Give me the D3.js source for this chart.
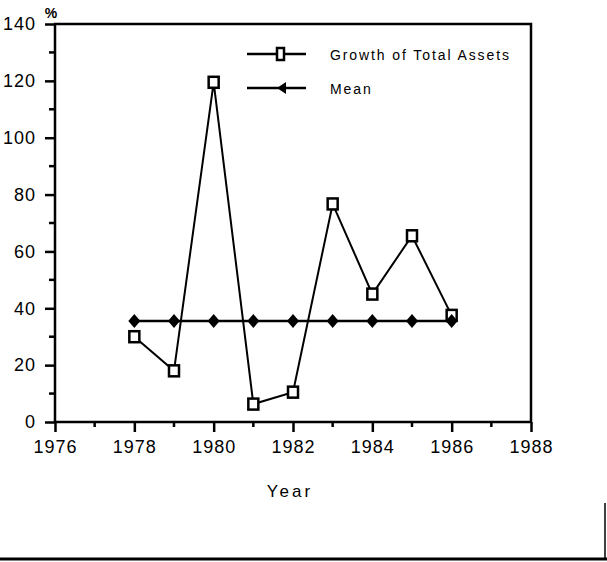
<!DOCTYPE html>
<html>
<head>
<meta charset="utf-8">
<script src="https://cdn.jsdelivr.net/npm/d3@7"></script>
<style>
  body { margin: 0; background: #fff; }
  svg { display: block; }
  text { font-family: "Liberation Sans", Arial, sans-serif; fill: #000; }
</style>
</head>
<body>
<div id="chart"></div>
<script>
// data
var years  = [1978, 1979, 1980, 1981, 1982, 1983, 1984, 1985, 1986];
var growth = [30, 18, 119.5, 6.3, 10.5, 76.7, 45, 65.5, 37.5];
var mean   = [35.5, 35.5, 35.5, 35.5, 35.5, 35.5, 35.5, 35.5, 35.5];
var xTicks = [1976, 1978, 1980, 1982, 1984, 1986, 1988];
var yTicks = [0, 20, 40, 60, 80, 100, 120, 140];
var seriesNames = ["Growth of Total Assets", "Mean"];

var W = 607, H = 562;
var box = { left: 55, right: 531, top: 24, bottom: 422 };

var svg = d3.select("#chart").append("svg")
	.attr("width", W).attr("height", H);

var x = d3.scaleLinear().domain([1976, 1988]).range([box.left, box.right]);
var y = d3.scaleLinear().domain([0, 140]).range([box.bottom, box.top]);

// frame
svg.append("rect")
	.attr("x", box.left).attr("y", box.top)
	.attr("width", box.right - box.left).attr("height", box.bottom - box.top)
	.attr("fill", "none").attr("stroke", "#000").attr("stroke-width", 2.5);

// x axis: major ticks every 2 years, minor every year
var xAxis = d3.axisBottom(x).tickValues(xTicks).tickFormat(d3.format("d"))
	.tickSize(10).tickPadding(8);
var gx = svg.append("g").attr("transform", "translate(0," + box.bottom + ")").call(xAxis);
gx.append("g").selectAll("line")
	.data(d3.range(1977, 1988, 2))
	.enter().append("line")
		.attr("x1", function(d){ return x(d); }).attr("x2", function(d){ return x(d); })
		.attr("y1", 0).attr("y2", 5);

var yAxis = d3.axisLeft(y).tickValues(yTicks).tickSize(10).tickPadding(9);
var gy = svg.append("g").attr("transform", "translate(" + box.left + ",0)").call(yAxis);
gy.append("g").selectAll("line")
	.data(d3.range(10, 140, 20))
	.enter().append("line")
		.attr("y1", function(d){ return y(d); }).attr("y2", function(d){ return y(d); })
		.attr("x1", 0).attr("x2", -6);

[gx, gy].forEach(function(g){
	g.select(".domain").remove();
	g.selectAll("line").attr("stroke", "#000").attr("stroke-width", 2.5);
	g.selectAll("text").attr("font-size", 18).attr("letter-spacing", 1)
		.attr("font-family", "'Liberation Sans', Arial, sans-serif").attr("fill", "#000");
});

svg.append("text").attr("x", 51).attr("y", 18)
	.attr("text-anchor", "middle").attr("font-size", 14).attr("font-weight", "bold")
	.text("%");

svg.append("text").attr("x", 290).attr("y", 497)
	.attr("text-anchor", "middle").attr("font-size", 17).attr("letter-spacing", 3)
	.text("Year");

// series lines
var line = d3.line().x(function(d){ return x(d[0]); }).y(function(d){ return y(d[1]); });
var meanPts   = years.map(function(yr, i){ return [yr, mean[i]]; });
var growthPts = years.map(function(yr, i){ return [yr, growth[i]]; });

svg.append("path").datum(meanPts).attr("d", line)
	.attr("fill", "none").attr("stroke", "#000").attr("stroke-width", 2.5);
svg.append("path").datum(growthPts).attr("d", line)
	.attr("fill", "none").attr("stroke", "#000").attr("stroke-width", 2);

svg.append("g").selectAll("rect")
	.data(growthPts).enter().append("rect")
		.attr("x", function(d){ return x(d[0]) - 5; })
		.attr("y", function(d){ return y(d[1]) - 5.5; })
		.attr("width", 10).attr("height", 11)
		.attr("fill", "#fff").attr("stroke", "#000").attr("stroke-width", 2.5);

var diamond = "M0,-7L6,0L0,7L-6,0Z";
svg.append("g").selectAll("path")
	.data(meanPts).enter().append("path")
		.attr("d", diamond)
		.attr("transform", function(d){ return "translate(" + x(d[0]) + "," + y(d[1]) + ")"; })
		.attr("fill", "#000");

// legend
var legend = svg.append("g");
var rows = [{ name: seriesNames[0], ly: 54 }, { name: seriesNames[1], ly: 88 }];
legend.selectAll("line").data(rows).enter().append("line")
	.attr("x1", 247).attr("x2", 306)
	.attr("y1", function(d){ return d.ly; }).attr("y2", function(d){ return d.ly; })
	.attr("stroke", "#000").attr("stroke-width", 2.5);
legend.append("rect").attr("x", 277).attr("y", 48).attr("width", 7).attr("height", 12)
	.attr("fill", "#fff").attr("stroke", "#000").attr("stroke-width", 2.5);
legend.append("path").attr("d", "M277,88L286,82L286,94Z").attr("fill", "#000");
legend.selectAll("text").data(rows).enter().append("text")
	.attr("x", 330).attr("y", function(d){ return d.ly + 6; })
	.attr("font-size", 14).attr("letter-spacing", 1.9)
	.text(function(d){ return d.name; });

// page border fragments at the bottom
svg.append("line").attr("x1", 0).attr("x2", W).attr("y1", 559).attr("y2", 559)
	.attr("stroke", "#000").attr("stroke-width", 3);
svg.append("line").attr("x1", 605).attr("x2", 605).attr("y1", 503).attr("y2", 560)
	.attr("stroke", "#000").attr("stroke-width", 1.5);
</script>
</body>
</html>
